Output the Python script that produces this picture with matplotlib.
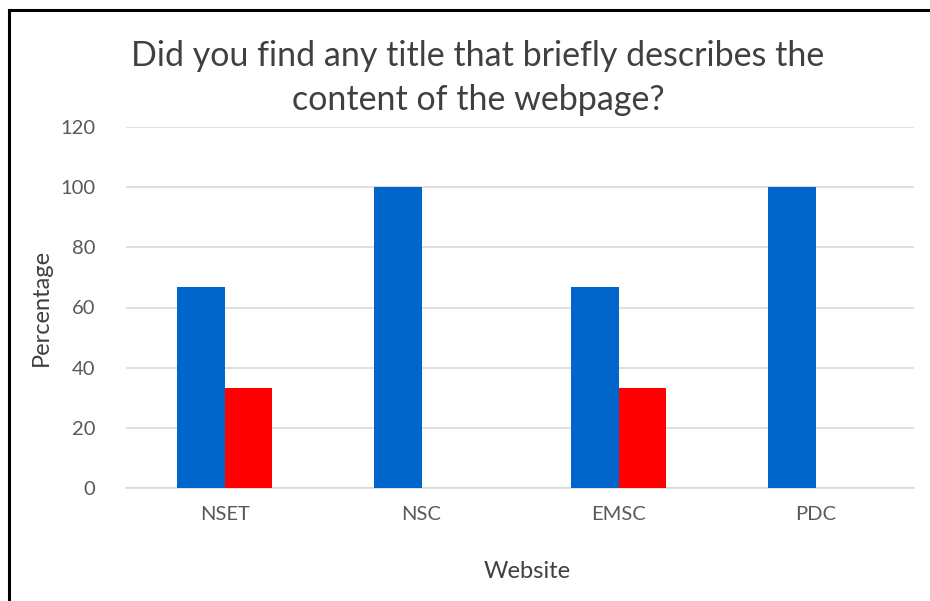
import matplotlib
matplotlib.use("Agg")
import matplotlib.pyplot as plt
import numpy as np

# Survey results per website
websites = ["NSET", "NSC", "EMSC", "PDC"]
yes_pct = [66.67, 100, 66.67, 100]
no_pct = [33.33, 0, 33.33, 0]
y_ticks = [0, 20, 40, 60, 80, 100, 120]

plt.rcParams["font.family"] = ["Lato", "DejaVu Sans"]
text_color = "#595959"

fig = plt.figure(figsize=(9.30, 6.01), dpi=100)
ax = fig.add_axes([126 / 930, 1 - 488 / 601, 788 / 930, 361 / 601])

x = np.arange(len(websites))
w = 0.24
ax.bar(x - w / 2, yes_pct, w, color="#0066CC", zorder=3)
ax.bar(x + w / 2, no_pct, w, color="#FF0000", zorder=3)

ax.set_xlim(-0.5, len(websites) - 0.5)
ax.set_ylim(0, 120)
ax.set_yticks(y_ticks)
ax.set_xticks(x)
ax.set_xticklabels(websites)
ax.tick_params(axis="both", length=0, colors=text_color, labelsize=14.5)
ax.tick_params(axis="x", pad=13)
ax.tick_params(axis="y", pad=22)
ax.yaxis.grid(True, color="#d9d9d9", linewidth=1.2, zorder=0)
for side in ["top", "right", "left"]:
    ax.spines[side].set_visible(False)
ax.spines["bottom"].set_color("#d9d9d9")
ax.spines["bottom"].set_linewidth(1.2)

ax.set_ylabel("Percentage", fontsize=17, color="#404040", labelpad=6)
fig.text(527 / 930, 1 - 572 / 601, "Website", fontsize=17, color="#404040",
         ha="center", va="center")
fig.text(478 / 930, 1 - 78 / 601,
         "Did you find any title that briefly describes the\ncontent of the webpage?",
         fontsize=24.5, color="#404040", ha="center", va="center", linespacing=1.45)

# frame around the chart area
fig.add_artist(plt.Line2D([9 / 930, 9 / 930], [0, 1 - 10 / 601],
                          color="black", linewidth=2.2, transform=fig.transFigure))
fig.add_artist(plt.Line2D([9 / 930, 1], [1 - 10 / 601, 1 - 10 / 601],
                          color="black", linewidth=2.2, transform=fig.transFigure))

fig.savefig("out.png", dpi=100, facecolor="white")
